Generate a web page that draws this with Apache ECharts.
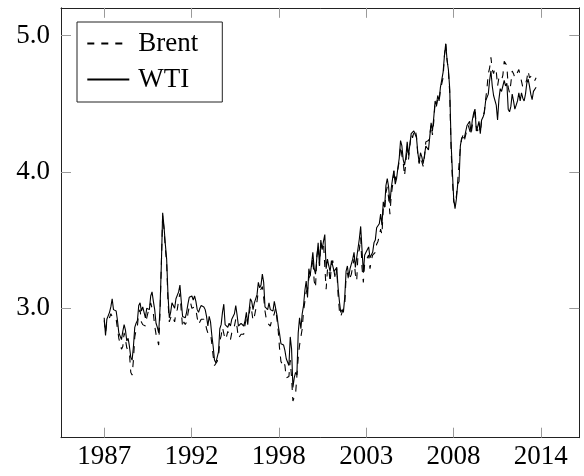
<!DOCTYPE html>
<html>
<head>
<meta charset="utf-8">
<script src="https://cdn.jsdelivr.net/npm/echarts@6.0.0/dist/echarts.min.js"></script>
<style>
html,body{margin:0;padding:0;background:#fff;}
#chart{width:584px;height:476px;}
</style>
</head>
<body>
<div id="chart"></div>
<script>
// Monthly log oil prices, first observation Jan 1987 (x = month index)
const brent = [
2.91,2.82,2.90,2.90,2.93,2.96,2.97,2.92,2.91,2.92,2.85,2.78,
2.77,2.70,2.72,2.82,2.77,2.71,2.69,2.67,2.53,2.51,2.62,2.79,
2.84,2.87,2.97,2.99,2.90,2.88,2.87,2.87,2.93,2.97,2.97,3.04,
3.04,2.96,2.87,2.81,2.77,2.73,2.96,3.32,3.68,3.58,3.44,3.33,
3.05,2.90,2.93,2.95,2.95,2.90,2.97,2.99,3.06,3.11,2.98,2.86,
2.90,2.88,2.90,2.96,3.01,3.04,3.00,2.99,3.01,2.99,2.93,2.88,
2.89,2.92,2.93,2.92,2.90,2.85,2.82,2.82,2.82,2.74,2.65,2.58,
2.59,2.61,2.64,2.76,2.80,2.86,2.86,2.77,2.79,2.83,2.83,2.77,
2.82,2.83,2.87,2.92,2.86,2.78,2.77,2.81,2.80,2.81,2.88,2.93,
2.92,2.95,3.02,2.98,2.91,2.94,2.99,3.05,3.13,3.13,3.14,3.16,
3.08,2.98,2.92,2.89,2.89,2.87,2.91,2.91,2.96,3.00,2.92,2.83,
2.70,2.61,2.59,2.61,2.58,2.49,2.48,2.50,2.62,2.49,2.32,2.31,
2.37,2.38,2.64,2.73,2.72,2.85,2.98,3.05,3.12,3.14,3.22,3.24,
3.30,3.37,3.20,3.15,3.38,3.46,3.31,3.48,3.44,3.48,3.48,3.14,
3.28,3.30,3.19,3.32,3.35,3.27,3.21,3.29,3.10,2.98,2.94,2.97,
2.98,3.02,3.23,3.26,3.20,3.20,3.25,3.31,3.36,3.25,3.20,3.40,
3.43,3.52,3.30,3.19,3.33,3.32,3.37,3.39,3.29,3.35,3.39,3.40,
3.41,3.47,3.49,3.53,3.58,3.54,3.73,3.71,3.85,3.89,3.81,3.69,
3.83,3.90,4.01,3.94,3.94,4.02,4.08,4.19,4.12,4.07,3.97,4.07,
4.19,4.09,4.19,4.28,4.25,4.29,4.31,4.26,4.12,4.06,4.11,4.11,
4.04,4.11,4.22,4.21,4.23,4.27,4.35,4.27,4.37,4.51,4.48,4.54,
4.52,4.60,4.61,4.69,4.85,4.94,4.82,4.74,4.58,4.17,3.94,3.78,
3.76,3.82,3.93,3.94,4.18,4.24,4.27,4.23,4.22,4.31,4.34,4.35,
4.27,4.34,4.40,4.47,4.33,4.30,4.36,4.29,4.38,4.41,4.44,4.53,
4.61,4.72,4.76,4.84,4.75,4.72,4.76,4.74,4.63,4.69,4.70,4.67,
4.71,4.81,4.81,4.78,4.62,4.58,4.65,4.74,4.72,4.69,4.71,4.71,
4.75,4.71,4.70,4.62,4.61,4.64,4.68,4.74,4.69,4.69,4.71,4.71,
4.67,4.69
];
const wti = [
2.93,2.80,2.92,2.93,2.97,3.01,3.07,2.99,3.00,2.98,2.91,2.82,
2.83,2.77,2.83,2.88,2.84,2.76,2.78,2.72,2.64,2.62,2.72,2.86,
2.89,2.91,3.02,3.04,2.98,3.01,2.97,2.93,3.00,3.01,2.99,3.09,
3.12,3.05,2.99,2.89,2.86,2.82,3.00,3.32,3.70,3.60,3.47,3.36,
3.10,2.93,2.97,3.04,3.05,3.00,3.07,3.08,3.12,3.17,3.05,2.94,
2.94,2.93,2.97,3.03,3.08,3.09,3.09,3.06,3.09,3.05,2.99,2.97,
3.00,3.02,3.02,3.01,2.99,2.94,2.87,2.94,2.90,2.80,2.72,2.62,
2.60,2.64,2.68,2.85,2.88,2.97,3.03,2.88,2.89,2.86,2.89,2.87,
2.92,2.93,2.96,3.02,2.95,2.87,2.88,2.89,2.88,2.87,2.91,2.97,
2.88,2.98,3.07,3.05,2.99,3.04,3.03,3.10,3.19,3.15,3.17,3.25,
3.19,3.01,3.02,2.99,3.04,2.99,3.00,2.98,3.05,3.05,2.95,2.87,
2.81,2.74,2.75,2.73,2.69,2.63,2.62,2.58,2.79,2.70,2.42,2.49,
2.53,2.51,2.82,2.93,2.85,2.96,3.02,3.13,3.20,3.08,3.29,3.24,
3.32,3.41,3.29,3.25,3.37,3.48,3.31,3.50,3.43,3.49,3.54,3.29,
3.36,3.31,3.27,3.35,3.35,3.27,3.27,3.30,3.15,3.05,2.97,2.99,
2.97,3.08,3.27,3.31,3.23,3.29,3.30,3.36,3.41,3.30,3.29,3.44,
3.51,3.60,3.43,3.26,3.39,3.41,3.42,3.45,3.37,3.37,3.41,3.48,
3.50,3.59,3.58,3.62,3.69,3.61,3.78,3.74,3.90,3.95,3.89,3.77,
3.88,3.95,4.01,3.91,3.95,4.03,4.10,4.23,4.19,4.09,4.05,4.11,
4.22,4.12,4.20,4.28,4.27,4.30,4.31,4.25,4.14,4.07,4.14,4.11,
4.06,4.12,4.19,4.19,4.16,4.26,4.36,4.30,4.40,4.52,4.49,4.56,
4.52,4.62,4.62,4.73,4.85,4.94,4.82,4.75,4.61,4.22,4.00,3.80,
3.73,3.80,3.91,3.93,4.19,4.25,4.24,4.25,4.26,4.34,4.35,4.37,
4.29,4.38,4.43,4.46,4.30,4.33,4.37,4.28,4.38,4.40,4.43,4.52,
4.52,4.57,4.67,4.74,4.63,4.56,4.56,4.49,4.38,4.53,4.61,4.59,
4.59,4.67,4.63,4.65,4.46,4.44,4.48,4.57,4.52,4.46,4.49,4.52,
4.58,4.52,4.58,4.54,4.52,4.57,4.65,4.68,4.63,4.57,4.53,4.59,
4.58,4.62
];
const xTickPos = [0, 65.7, 131.4, 197.1, 262.8, 328.5];
const xTickLabels = ['1987', '1992', '1998', '2003', '2008', '2014'];
const yTickVals = [3, 4, 5];
const yTickLabels = ['3.0', '4.0', '5.0'];

const FONT = 'Liberation Serif';
const toPairs = arr => arr.map((v, i) => [i, v]);

const tickStyle = {show: true, inside: true, length: 10, lineStyle: {color: '#9a9a9a', width: 1}};
const frameLine = {show: true, onZero: false, lineStyle: {color: '#222', width: 1}};

const chart = echarts.init(document.getElementById('chart'), null, {renderer: 'canvas'});
chart.setOption({
  animation: false,
  backgroundColor: '#fff',
  grid: {left: 61, right: 4.7, top: 7.8, bottom: 38.3},
  xAxis: [
    {
      type: 'value', position: 'bottom', min: -32.5, max: 357.5,
      axisLine: frameLine,
      axisTick: Object.assign({customValues: xTickPos}, tickStyle),
      axisLabel: {
        customValues: xTickPos, margin: 6,
        fontFamily: FONT, fontSize: 27, color: '#000',
        formatter: v => { const k = xTickPos.indexOf(v); return k >= 0 ? xTickLabels[k] : ''; }
      },
      splitLine: {show: false}
    },
    {
      type: 'value', position: 'top', min: -32.5, max: 357.5,
      axisLine: frameLine,
      axisTick: Object.assign({customValues: xTickPos}, tickStyle),
      axisLabel: {show: false},
      splitLine: {show: false}
    }
  ],
  yAxis: [
    {
      type: 'value', position: 'left', min: 2.051, max: 5.203,
      axisLine: frameLine,
      axisTick: Object.assign({customValues: yTickVals}, tickStyle),
      axisLabel: {
        customValues: yTickVals, margin: 11,
        fontFamily: FONT, fontSize: 27, color: '#000',
        formatter: v => { const k = yTickVals.indexOf(v); return k >= 0 ? yTickLabels[k] : ''; }
      },
      splitLine: {show: false}
    },
    {
      type: 'value', position: 'right', min: 2.051, max: 5.203,
      axisLine: frameLine,
      axisTick: Object.assign({customValues: yTickVals}, tickStyle),
      axisLabel: {show: false},
      splitLine: {show: false}
    }
  ],
  legend: {
    orient: 'vertical', left: 77, top: 22,
    backgroundColor: '#fff', borderColor: '#222', borderWidth: 1, borderRadius: 0,
    padding: [6.6, 17, 7.4, 9.3],
    itemWidth: 42, itemHeight: 14, itemGap: 6,
    itemStyle: {color: 'rgba(0,0,0,0)', borderWidth: 0, opacity: 0},
    textStyle: {fontFamily: FONT, fontSize: 27, color: '#000', lineHeight: 30, padding: [0, 0, 0, 4], width: 67},
    data: ['Brent', 'WTI']
  },
  series: [
    {
      name: 'Brent', type: 'line', xAxisIndex: 0, yAxisIndex: 0,
      data: toPairs(brent), symbol: 'none', smooth: false,
      lineStyle: {color: '#000', width: 1.1, type: [7, 7]},
      itemStyle: {color: '#000'}
    },
    {
      name: 'WTI', type: 'line', xAxisIndex: 0, yAxisIndex: 0,
      data: toPairs(wti), symbol: 'none', smooth: false,
      lineStyle: {color: '#000', width: 1.1, type: 'solid'},
      itemStyle: {color: '#000'}
    }
  ]
});
</script>
</body>
</html>
